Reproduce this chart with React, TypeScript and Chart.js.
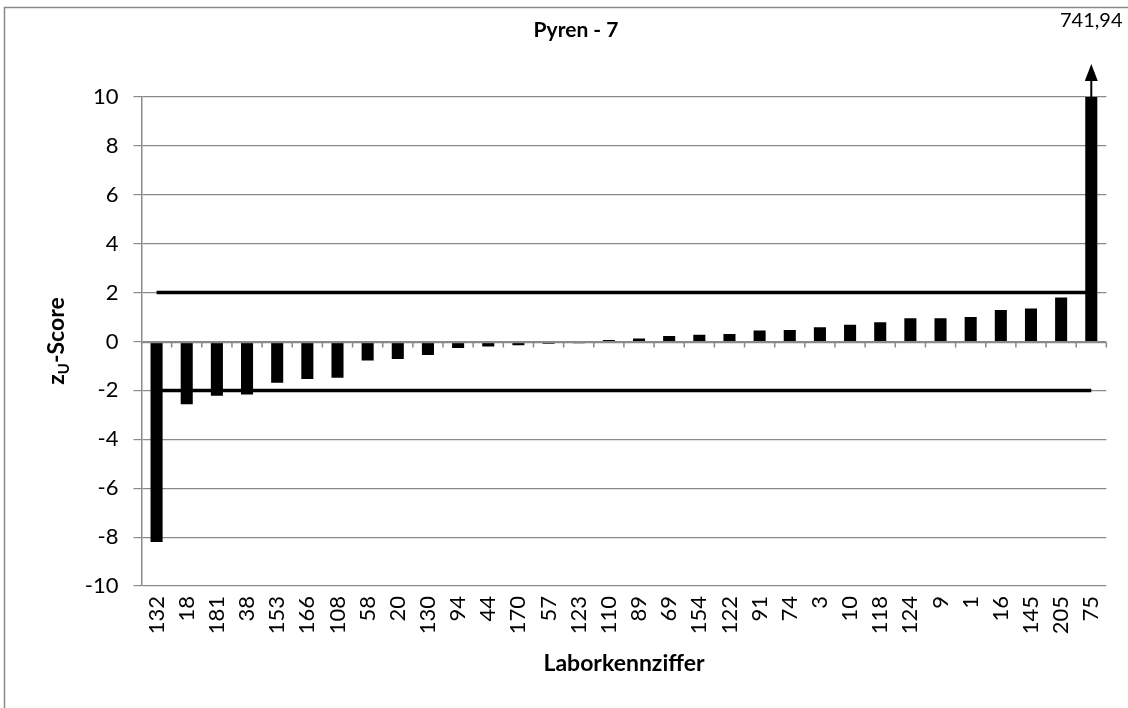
import React, { useEffect, useRef } from "react";
import { Chart, registerables } from "chart.js";

Chart.register(...registerables);

const labs = ["132","18","181","38","153","166","108","58","20","130","94","44","170","57","123","110","89","69","154","122","91","74","3","10","118","124","9","1","16","145","205","75"];
const zScores = [-8.2,-2.57,-2.22,-2.17,-1.69,-1.53,-1.48,-0.78,-0.72,-0.55,-0.27,-0.2,-0.15,-0.09,-0.07,0.06,0.12,0.22,0.28,0.31,0.45,0.47,0.58,0.68,0.79,0.95,0.95,1.0,1.29,1.35,1.8,741.94];
const upperLimit = labs.map(() => 2);
const lowerLimit = labs.map(() => -2);
const yTicks = [-10,-8,-6,-4,-2,0,2,4,6,8,10];
const titleText = "Pyren - 7";
const xTitle = "Laborkennziffer";
const yMax = 10;
const yMin = -10;

const FONT = "Lato, 'Open Sans', sans-serif";
const GRAY = "#8a8a8a";

const decor = {
  id: "decor",
  afterDatasetsDraw(chart: any) {
    const ctx = chart.ctx;
    const ca = chart.chartArea;
    const y = chart.scales.y;
    ctx.save();
    // outer border (left and top)
    ctx.strokeStyle = GRAY;
    ctx.lineWidth = 1.5;
    ctx.beginPath();
    ctx.moveTo(4.5, 708);
    ctx.lineTo(4.5, 7.5);
    ctx.lineTo(1128, 7.5);
    ctx.stroke();
    // zero axis with tick marks
    const y0 = Math.round(y.getPixelForValue(0)) + 0.5;
    ctx.strokeStyle = GRAY;
    ctx.lineWidth = 1.5;
    ctx.beginPath();
    ctx.moveTo(ca.left, y0);
    ctx.lineTo(ca.right, y0);
    const n = labs.length;
    const w = (ca.right - ca.left) / n;
    for (let i = 1; i <= n; i++) {
      const tx = ca.left + w * i;
      ctx.moveTo(tx, y0);
      ctx.lineTo(tx, y0 + 5);
    }
    ctx.stroke();
    // title
    ctx.fillStyle = "#000";
    ctx.textAlign = "center";
    ctx.textBaseline = "middle";
    ctx.font = "bold 21px " + FONT;
    ctx.fillText(titleText, 576, 30);
    // x title
    ctx.font = "bold 23px " + FONT;
    ctx.fillText(xTitle, 624, 664);
    // y title with subscript
    ctx.save();
    ctx.translate(57, 341);
    ctx.rotate(-Math.PI / 2);
    ctx.font = "bold 23px " + FONT;
    const zW = ctx.measureText("z").width;
    ctx.font = "bold 15px " + FONT;
    const uW = ctx.measureText("U").width;
    ctx.font = "bold 23px " + FONT;
    const sW = ctx.measureText("-Score").width;
    const total = zW + uW + sW;
    let cx = -total / 2;
    ctx.textAlign = "left";
    ctx.fillText("z", cx, 0);
    cx += zW;
    ctx.font = "bold 15px " + FONT;
    ctx.fillText("U", cx, 7);
    cx += uW;
    ctx.font = "bold 23px " + FONT;
    ctx.fillText("-Score", cx, 0);
    ctx.restore();
    // capped bars: arrow + value
    const meta = chart.getDatasetMeta(0);
    zScores.forEach((v, i) => {
      if (v > yMax) {
        const bx = meta.data[i].x;
        const top = ca.top;
        ctx.strokeStyle = "#000";
        ctx.lineWidth = 2;
        ctx.beginPath();
        ctx.moveTo(bx, top);
        ctx.lineTo(bx, top - 18);
        ctx.stroke();
        ctx.fillStyle = "#000";
        ctx.beginPath();
        ctx.moveTo(bx, top - 33);
        ctx.lineTo(bx - 6.5, top - 16);
        ctx.lineTo(bx + 6.5, top - 16);
        ctx.closePath();
        ctx.fill();
        ctx.font = "20px " + FONT;
        ctx.textAlign = "center";
        ctx.textBaseline = "middle";
        ctx.fillText(v.toLocaleString("de-DE"), bx, 21);
      }
    });
    ctx.restore();
  },
};

export default function App() {
  const ref = useRef<HTMLCanvasElement>(null);
  useEffect(() => {
    if (!ref.current) return;
    const chart = new Chart(ref.current, {
      type: "bar",
      data: {
        labels: labs,
        datasets: [
          {
            type: "bar",
            data: zScores,
            backgroundColor: "#000",
            borderWidth: 0,
            barPercentage: 0.4,
            categoryPercentage: 1,
            order: 2,
          } as any,
          {
            type: "line",
            data: upperLimit,
            borderColor: "#000",
            borderWidth: 3.5,
            pointRadius: 0,
            order: 1,
          },
          {
            type: "line",
            data: lowerLimit,
            borderColor: "#000",
            borderWidth: 3.5,
            pointRadius: 0,
            order: 1,
          },
        ],
      },
      options: {
        responsive: false,
        animation: false,
        layout: { padding: { left: 0, top: 97, right: 20, bottom: 0 } },
        plugins: { legend: { display: false }, tooltip: { enabled: false }, title: { display: false } },
        scales: {
          x: {
            grid: { display: false, drawTicks: false },
            border: { display: false },
            ticks: {
              minRotation: 90,
              maxRotation: 90,
              autoSkip: false,
              color: "#000",
              font: { family: FONT, size: 22 },
              padding: 10,
            },
            afterFit: (s: any) => { s.height = 122; },
          },
          y: {
            min: yMin,
            max: yMax,
            afterBuildTicks: (s: any) => { s.ticks = yTicks.map((v) => ({ value: v })); },
            grid: { color: GRAY, lineWidth: 1.2, tickLength: 8, drawTicks: true },
            border: { display: true, color: GRAY, width: 1.5 },
            ticks: {
              color: "#000",
              font: { family: FONT, size: 22 },
              padding: 15,
            },
            afterFit: (s: any) => { s.width = 141.5; },
          },
        },
      },
      plugins: [decor],
    });
    return () => chart.destroy();
  }, []);
  return (
    <div style={{ position: "absolute", left: 0, top: 0, width: 1128, height: 708, background: "#fff" }}>
      <canvas ref={ref} width={1128} height={708} style={{ display: "block" }} />
    </div>
  );
}
